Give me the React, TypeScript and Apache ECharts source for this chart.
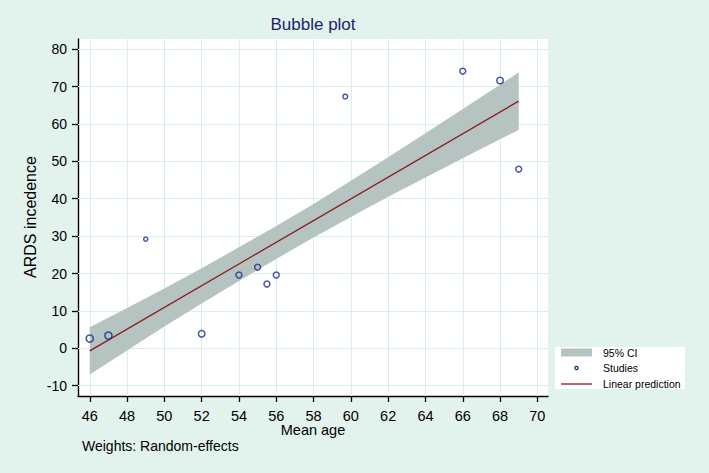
import React, { useEffect, useRef } from "react";
import * as echarts from "echarts";

// Studies (mean age, ARDS incidence) and random-effects weights
const studyAge = [46, 47, 49, 52, 54, 55, 55.5, 56, 59.7, 66, 68, 69];
const studyArds = [2.6, 3.4, 29.2, 3.9, 19.6, 21.7, 17.2, 19.6, 67.3, 74.1, 71.6, 47.9];
const studyWeight = [9, 9, 3, 7.5, 6, 6, 6, 6, 4, 6, 7.5, 6];

// Linear prediction end points
const predAge = [46, 69];
const predArds = [-0.7, 66.1];

// 95% CI band
const ciAge = [46, 48, 50, 52, 54, 56, 58, 60, 62, 64, 66, 68, 69];
const ciLower = [-7.0, -0.6, 5.8, 12.0, 18.0, 23.9, 29.6, 35.1, 40.5, 45.7, 50.8, 55.9, 58.4];
const ciUpper = [5.6, 10.8, 16.0, 21.4, 27.0, 32.7, 38.6, 44.8, 51.1, 57.5, 64.0, 70.5, 73.8];

// Tick labels
const xTicks = [46, 48, 50, 52, 54, 56, 58, 60, 62, 64, 66, 68, 70];
const yTicks = [-10, 0, 10, 20, 30, 40, 50, 60, 70, 80];

const FONT = "'Liberation Sans', Arial, Helvetica, sans-serif";
const BAND = "#b5c3c1";
const NAVY = "#1a2a8a";
const RED = "#8b1a1a";
const GRID = "#d8eeea";

export default function App() {
  const ref = useRef<HTMLDivElement>(null);
  useEffect(() => {
    if (!ref.current) return;
    const chart = echarts.init(ref.current, null, { renderer: "svg" });
    const option: any = {
      animation: false,
      backgroundColor: "#e2f3ee",
      grid: {
        left: 78,
        top: 39,
        width: 470,
        height: 357,
        show: true,
        backgroundColor: "#ffffff",
        borderWidth: 0,
      },
      xAxis: {
        type: "value",
        min: 45.37,
        max: 70.57,
        axisLine: { show: true, onZero: false, lineStyle: { color: "#000", width: 1.4 } },
        axisTick: { show: true, length: 6, customValues: xTicks, lineStyle: { color: "#000", width: 1.3 } },
        axisLabel: { customValues: xTicks, margin: 12, fontSize: 14.5, color: "#000", fontFamily: FONT },
        splitLine: { show: false },
      },
      yAxis: {
        type: "value",
        min: -12.75,
        max: 82.7,
        axisLine: { show: true, onZero: false, lineStyle: { color: "#000", width: 1.4 } },
        axisTick: { show: true, length: 6, customValues: yTicks, lineStyle: { color: "#000", width: 1.3 } },
        axisLabel: { customValues: yTicks, margin: 11, fontSize: 14, color: "#000", fontFamily: FONT },
        splitLine: { show: false },
      },
      series: [
        {
          type: "line",
          data: [],
          z: 1,
          silent: true,
          markLine: {
            silent: true,
            z: 1,
            symbol: ["none", "none"],
            label: { show: false },
            lineStyle: { color: GRID, width: 1, type: "solid" },
            emphasis: { disabled: true },
            data: [
              ...xTicks.map((v) => ({ xAxis: v })),
              ...yTicks.map((v) => ({ yAxis: v })),
            ],
          },
        },
        {
          type: "custom",
          z: 2,
          silent: true,
          data: ciAge.map((a, i) => [a, ciLower[i], ciUpper[i]]),
          encode: { x: 0, y: [1, 2] },
          renderItem: (params: any, api: any) => {
            if (params.dataIndex !== 0) return null;
            const upper = ciAge.map((a, i) => api.coord([a, ciUpper[i]]));
            const lower = ciAge.map((a, i) => api.coord([a, ciLower[i]])).reverse();
            return {
              type: "polygon",
              shape: { points: upper.concat(lower) },
              style: { fill: BAND, stroke: "none" },
            };
          },
        },
        {
          type: "line",
          z: 3,
          symbol: "none",
          lineStyle: { color: RED, width: 1.3 },
          data: predAge.map((a, i) => [a, predArds[i]]),
        },
        {
          type: "scatter",
          z: 4,
          symbol: "circle",
          symbolSize: (val: number[], p: any) => 2.4 * Math.sqrt(studyWeight[p.dataIndex]),
          itemStyle: { color: "rgba(0,0,0,0)", borderColor: NAVY, borderWidth: 1.5 },
          data: studyAge.map((a, i) => [a, studyArds[i]]),
        },
      ],
      graphic: [
        {
          type: "text",
          x: 313,
          y: 24,
          style: { text: "Bubble plot", fontSize: 17, fontFamily: FONT, fill: "#1a236a", align: "center", verticalAlign: "middle" },
        },
        {
          type: "text",
          x: 30,
          y: 217,
          rotation: Math.PI / 2,
          style: { text: "ARDS incedence", fontSize: 16, fontFamily: FONT, fill: "#000", align: "center", verticalAlign: "middle" },
        },
        {
          type: "text",
          x: 313,
          y: 430,
          style: { text: "Mean age", fontSize: 14.5, fontFamily: FONT, fill: "#000", align: "center", verticalAlign: "middle" },
        },
        {
          type: "text",
          x: 82,
          y: 446,
          style: { text: "Weights: Random-effects", fontSize: 14, fontFamily: FONT, fill: "#000", align: "left", verticalAlign: "middle" },
        },
        {
          type: "rect",
          shape: { x: 555, y: 347, width: 130, height: 42 },
          style: { fill: "#ffffff" },
        },
        {
          type: "rect",
          shape: { x: 561, y: 348.5, width: 31, height: 8 },
          style: { fill: BAND },
        },
        {
          type: "text",
          x: 603,
          y: 352.5,
          style: { text: "95% CI", fontSize: 10.5, fontFamily: FONT, fill: "#000", align: "left", verticalAlign: "middle" },
        },
        {
          type: "circle",
          shape: { cx: 576.5, cy: 368, r: 1.6 },
          style: { fill: "none", stroke: NAVY, lineWidth: 1.2 },
        },
        {
          type: "text",
          x: 603,
          y: 368,
          style: { text: "Studies", fontSize: 10.5, fontFamily: FONT, fill: "#000", align: "left", verticalAlign: "middle" },
        },
        {
          type: "line",
          shape: { x1: 561, y1: 384, x2: 592, y2: 384 },
          style: { stroke: RED, lineWidth: 1.3 },
        },
        {
          type: "text",
          x: 603,
          y: 384,
          style: { text: "Linear prediction", fontSize: 10.5, fontFamily: FONT, fill: "#000", align: "left", verticalAlign: "middle" },
        },
      ],
    };
    chart.setOption(option);
    return () => chart.dispose();
  }, []);
  return (
    <div
      ref={ref}
      style={{ position: "fixed", left: 0, top: 0, width: 709, height: 473 }}
    />
  );
}
